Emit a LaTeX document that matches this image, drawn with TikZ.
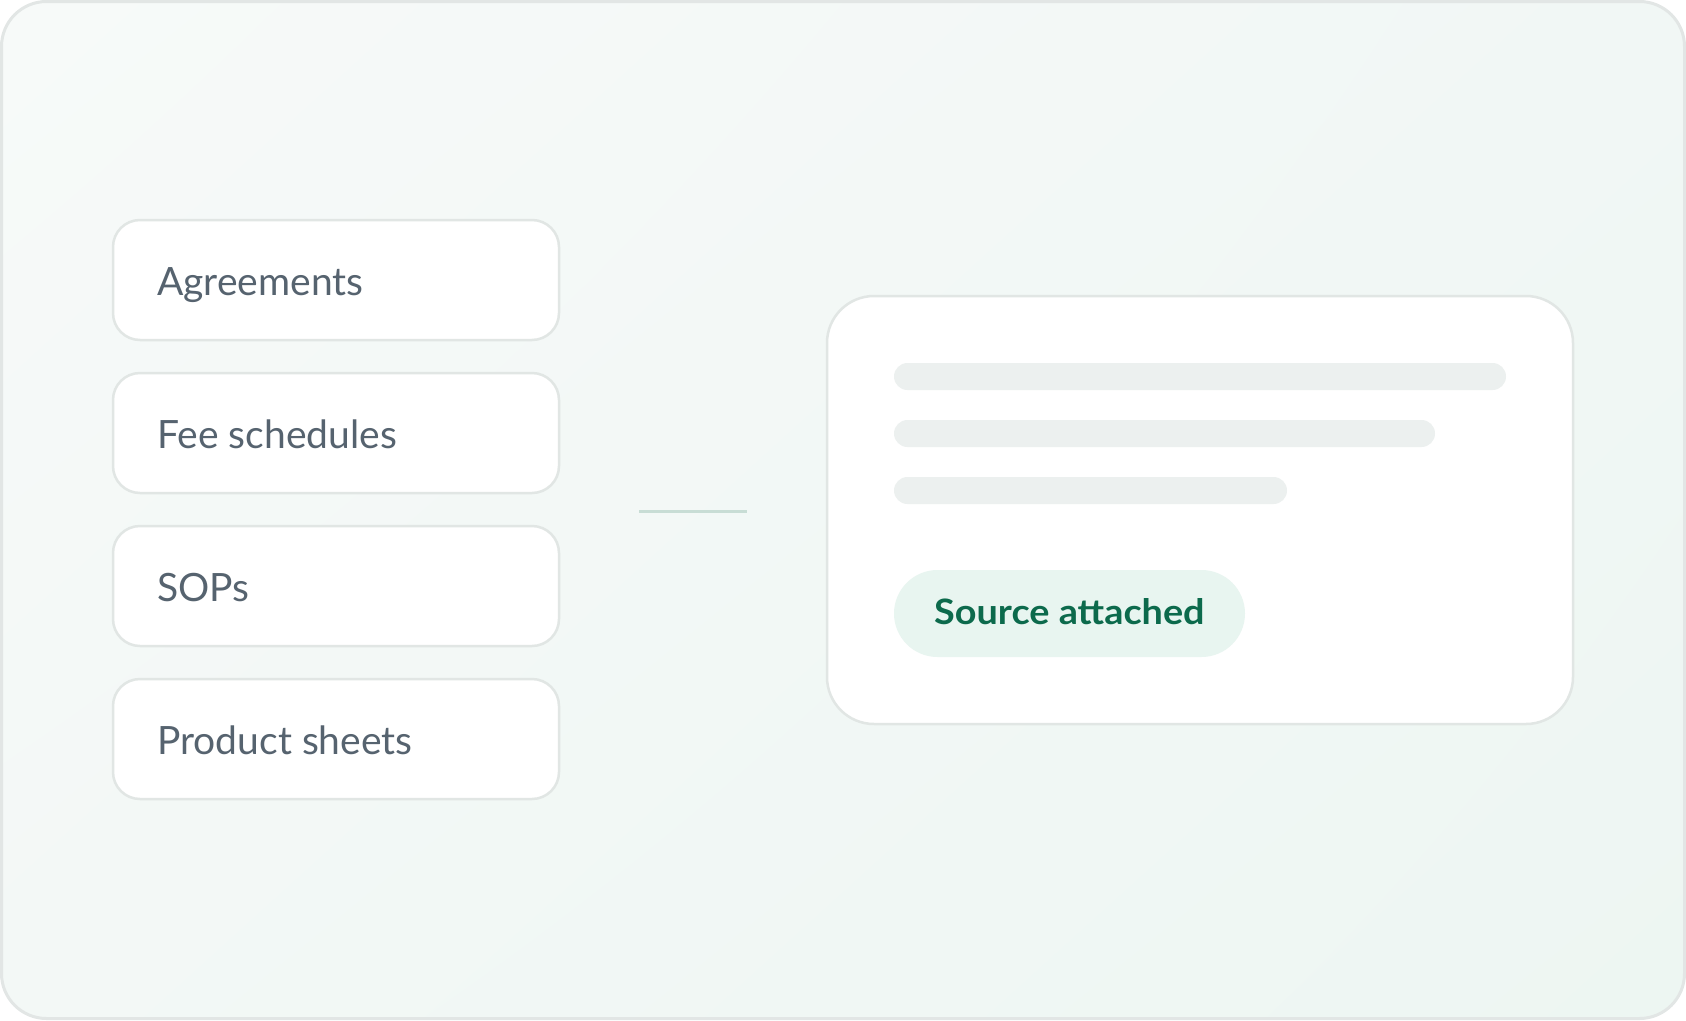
\documentclass[tikz,border=0pt]{standalone}
\usepackage{fontspec}
\setmainfont{Lato}
\usetikzlibrary{positioning,shadings}
\definecolor{bgA}{HTML}{F7FAF9}
\definecolor{bgB}{HTML}{F1F7F5}
\definecolor{bgC}{HTML}{F3F8F6}
\definecolor{bgD}{HTML}{EDF6F2}
\definecolor{frameline}{HTML}{E2E6E5}
\definecolor{cardline}{HTML}{E1E6E4}
\definecolor{labeltext}{HTML}{56636F}
\definecolor{skel}{HTML}{ECF0EF}
\definecolor{pillfill}{HTML}{E8F5F0}
\definecolor{pilltext}{HTML}{0C6A4C}
\definecolor{connector}{HTML}{C8DDD5}
\tikzset{
  docbox/.style={draw=cardline, line width=2.5pt, fill=white, rounded corners=27pt},
  doclabel/.style={anchor=base west, inner sep=0pt, text=labeltext, font=\fontsize{39}{45}\selectfont},
  skelbar/.style={fill=skel, rounded corners=13.5pt},
}
\begin{document}
\begin{tikzpicture}[x=1pt,y=-1pt]
\useasboundingbox (0,0) rectangle (1686,1020);
% background frame
\path[rounded corners=45pt, upper left=bgA, upper right=bgB, lower left=bgC, lower right=bgD, shade]
  (1.5,1.5) rectangle (1684.5,1018.5);
\draw[frameline, line width=3pt, rounded corners=45pt] (1.5,1.5) rectangle (1684.5,1018.5);
% document boxes
\draw[docbox] (113,220) rectangle (559,340);
\node[doclabel] (agr) at (157,295) {Agreements};
\draw[docbox] (113,373) rectangle (559,493);
\node[doclabel] (fee) at (157,448) {Fee schedules};
\draw[docbox] (113,526) rectangle (559,646);
\node[doclabel] (sop) at (157,601) {SOPs};
\draw[docbox] (113,679) rectangle (559,799);
\node[doclabel] (prod) at (157,754) {Product sheets};
% connector
\coordinate (cA) at (639,511);
\coordinate (cB) at (747,511);
\draw[connector, line width=3pt] (cA) -- (cB);
% answer card
\draw[draw=cardline, line width=2.5pt, fill=white, rounded corners=47pt] (827,296) rectangle (1573,724);
\fill[skelbar] (894,363) rectangle (1506,390);
\fill[skelbar] (894,420) rectangle (1435,447);
\fill[skelbar] (894,477) rectangle (1287,504);
\fill[pillfill, rounded corners=43.5pt] (894,570) rectangle (1245,657);
\node[anchor=base west, inner sep=0pt, text=pilltext, font=\fontsize{35}{41}\selectfont\bfseries] (src) at (934,624) {\scalebox{1.08}[1]{Source attached}};
\end{tikzpicture}
\end{document}
